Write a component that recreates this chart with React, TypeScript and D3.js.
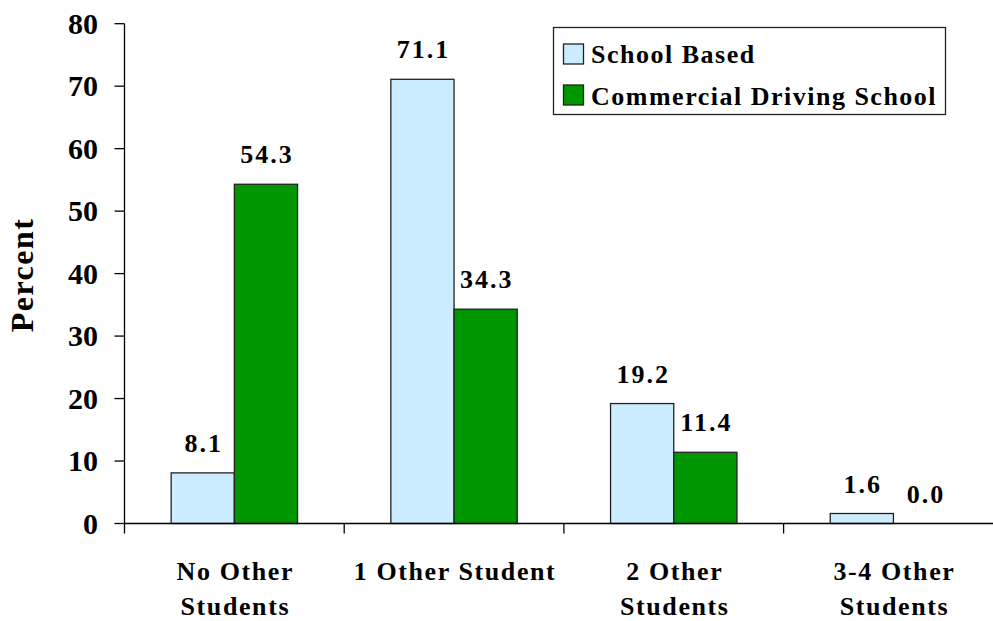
import React from "react";
import * as d3 from "d3";

const categories: string[][] = [
  ["No Other", "Students"],
  ["1 Other Student"],
  ["2 Other", "Students"],
  ["3-4 Other", "Students"],
];
const seriesNames = ["School Based", "Commercial Driving School"];
const schoolBased = [8.1, 71.1, 19.2, 1.6];
const commercial = [54.3, 34.3, 11.4, 0.0];
const yTicks = [0, 10, 20, 30, 40, 50, 60, 70, 80];
const colors = ["#CCECFF", "#009600"];

const W = 993;
const H = 621;
const FONT = "'Liberation Serif', 'Times New Roman', Times, serif";

export default function App() {
  const catKeys = categories.map((c) => c.join(" "));
  const x0 = d3.scaleBand<string>().domain(catKeys).range([124.5, 1003.3]).padding(0);
  const x1 = d3
    .scaleBand<string>()
    .domain(seriesNames)
    .range([0, x0.bandwidth()])
    .paddingInner(0)
    .paddingOuter(0.738);
  const y = d3.scaleLinear().domain([0, 80]).range([523.5, 23.7]);
  const values = [schoolBased, commercial];
  const axisX0 = 124.5;
  const y0 = y(0);

  return (
    <div style={{ position: "absolute", left: 0, top: 0 }}>
      <svg width={W} height={H} style={{ display: "block", background: "#fff" }} fontFamily={FONT} fontWeight="bold">
        {/* bars */}
        {values.map((vals, si) =>
          vals.map((v, ci) => {
            const bx = (x0(catKeys[ci]) as number) + (x1(seriesNames[si]) as number);
            const by = y(v);
            const h = y0 - by;
            return (
              <g key={`b${si}-${ci}`}>
                {h > 0.01 && (
                  <rect x={bx} y={by} width={x1.bandwidth()} height={h} fill={colors[si]} stroke="#222" strokeWidth={1.3} />
                )}
                <text
                  x={bx + x1.bandwidth() / 2 + 1}
                  y={by - 21}
                  textAnchor="middle"
                  fontSize={26}
                  letterSpacing={2}
                  fill="#000"
                >
                  {v.toFixed(1)}
                </text>
              </g>
            );
          })
        )}
        {/* y axis */}
        <line x1={axisX0} x2={axisX0} y1={y(80)} y2={y0} stroke="#000" strokeWidth={1.3} />
        {yTicks.map((t) => (
          <g key={`yt${t}`}>
            <line x1={axisX0 - 10} x2={axisX0} y1={y(t)} y2={y(t)} stroke="#000" strokeWidth={1.3} />
            <text x={98} y={y(t) + 10} textAnchor="end" fontSize={30} fill="#000">
              {t}
            </text>
          </g>
        ))}
        {/* x axis */}
        <line x1={axisX0} x2={W} y1={y0} y2={y0} stroke="#000" strokeWidth={1.3} />
        {catKeys.map((k, i) => (
          <line key={`xt${i}`} x1={x0(k) as number} x2={x0(k) as number} y1={y0} y2={y0 + 10} stroke="#000" strokeWidth={1.3} />
        ))}
        {categories.map((lines, i) => {
          const cx = (x0(catKeys[i]) as number) + x0.bandwidth() / 2;
          return lines.map((ln, li) => (
            <text
              key={`cl${i}-${li}`}
              x={cx + 1}
              y={580 + li * 35}
              textAnchor="middle"
              fontSize={26}
              letterSpacing={1.6}
              fill="#000"
            >
              {ln}
            </text>
          ));
        })}
        {/* y axis title */}
        <text
          transform={`translate(33, 275) rotate(-90)`}
          textAnchor="middle"
          fontSize={32}
          letterSpacing={1.5}
          fill="#000"
        >
          Percent
        </text>
        {/* legend */}
        <rect x={553.5} y={27.5} width={392} height={87} fill="#fff" stroke="#222" strokeWidth={1.3} />
        {seriesNames.map((s, i) => (
          <g key={`lg${i}`}>
            <rect x={563.5} y={44 + i * 41} width={20} height={20} fill={colors[i]} stroke="#222" strokeWidth={1.3} />
            <text x={591} y={62.5 + i * 42} fontSize={26} letterSpacing={1.5} fill="#000">
              {s}
            </text>
          </g>
        ))}
      </svg>
    </div>
  );
}
